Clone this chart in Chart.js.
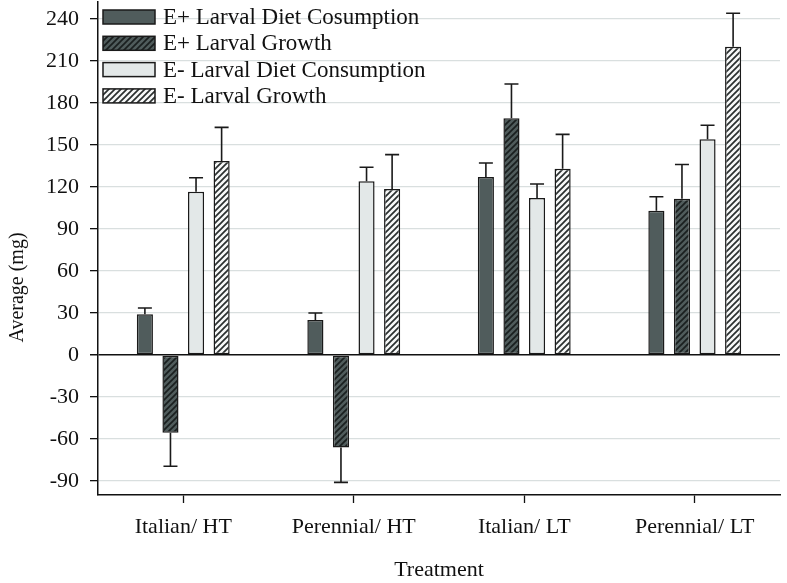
<!DOCTYPE html>
<html>
<head>
<meta charset="utf-8">
<script src="https://cdn.jsdelivr.net/npm/chart.js@4"></script>
<style>
  html, body { margin: 0; padding: 0; background: #fff; }
  #wrap { width: 787px; height: 583px; }
</style>
</head>
<body>
<div id="wrap"><canvas id="chart" width="787" height="583"></canvas></div>
<script>
const categories = ['Italian/ HT', 'Perennial/ HT', 'Italian/ LT', 'Perennial/ LT'];

const seriesLabels = [
    'E+ Larval Diet Cosumption',
    'E+ Larval Growth',
    'E- Larval Diet Consumption',
    'E- Larval Growth'
];

// means (mg)
const ePlusDiet    = [29, 25, 127, 103];
const ePlusGrowth  = [-55.5, -66, 169, 111.5];
const eMinusDiet   = [116.5, 124, 112, 154];
const eMinusGrowth = [138.5, 118.5, 133, 220];

// standard errors (mg)
const ePlusDietErr    = [4.5, 5, 10, 10];
const ePlusGrowthErr  = [24, 25, 24.5, 24.5];
const eMinusDietErr   = [10, 10, 10, 10];
const eMinusGrowthErr = [24, 24.5, 24.5, 24];

const yTicks = [-90, -60, -30, 0, 30, 60, 90, 120, 150, 180, 210, 240];
const yTitle = 'Average (mg)';

const DARK = '#505c5c';
const LIGHT = '#e3e8e8';
const SERIF = '"Liberation Serif", "Times New Roman", serif';

function hatch(bg, fg) {
    const s = 6;
    const c = document.createElement('canvas');
    c.width = s; c.height = s;
    const g = c.getContext('2d');
    g.fillStyle = bg;
    g.fillRect(0, 0, s, s);
    g.strokeStyle = fg;
    g.lineWidth = 1.7;
    g.beginPath();
    g.moveTo(0, s); g.lineTo(s, 0);
    g.moveTo(-1, 1); g.lineTo(1, -1);
    g.moveTo(s - 1, s + 1); g.lineTo(s + 1, s - 1);
    g.stroke();
    return g.createPattern(c, 'repeat');
}

const fills = [DARK, hatch(DARK, '#1a1f1f'), LIGHT, hatch('#f7f8f8', '#2a2f2f')];
const values = [ePlusDiet, ePlusGrowth, eMinusDiet, eMinusGrowth];
const errors = [ePlusDietErr, ePlusGrowthErr, eMinusDietErr, eMinusGrowthErr];

const datasets = values.map((v, i) => ({
    label: seriesLabels[i],
    data: v,
    errors: errors[i],
    backgroundColor: fills[i],
    borderColor: '#1a1a1a',
    borderWidth: 1.5,
    borderSkipped: false,
    categoryPercentage: 0.6,
    barPercentage: 0.63
}));

const errorBars = {
    id: 'errorBars',
    afterDatasetsDraw(chart) {
        const ctx = chart.ctx;
        const y = chart.scales.y;
        ctx.save();
        ctx.strokeStyle = '#1a1a1a';
        ctx.lineWidth = 1.6;
        chart.data.datasets.forEach((ds, i) => {
            chart.getDatasetMeta(i).data.forEach((bar, j) => {
                const v = ds.data[j];
                const end = y.getPixelForValue(v + Math.sign(v) * ds.errors[j]);
                ctx.beginPath();
                ctx.moveTo(bar.x, bar.y);
                ctx.lineTo(bar.x, end);
                ctx.moveTo(bar.x - 7, end);
                ctx.lineTo(bar.x + 7, end);
                ctx.stroke();
            });
        });
        ctx.restore();
    }
};

// legend boxes inside the plot + y title centred on the whole figure height
const boxLegend = {
    id: 'boxLegend',
    afterDraw(chart) {
        const ctx = chart.ctx;
        const a = chart.chartArea;
        ctx.save();
        ctx.font = '23px ' + SERIF;
        ctx.textBaseline = 'middle';
        chart.data.datasets.forEach((ds, i) => {
            const top = 10 + i * 26.3;
            ctx.fillStyle = ds.backgroundColor;
            ctx.fillRect(a.left + 5, top, 52, 14);
            ctx.strokeStyle = '#1a1a1a';
            ctx.lineWidth = 1.5;
            ctx.strokeRect(a.left + 5, top, 52, 14);
            ctx.fillStyle = '#111';
            ctx.fillText(ds.label, a.left + 65, top + 8);
        });

        ctx.translate(18, chart.height / 2 - 4);
        ctx.rotate(-Math.PI / 2);
        ctx.textAlign = 'center';
        ctx.font = '20px ' + SERIF;
        ctx.fillText(yTitle, 0, 0);
        ctx.restore();
    }
};

const font = { family: SERIF, size: 22 };

new Chart(document.getElementById('chart'), {
    type: 'bar',
    data: { labels: categories, datasets: datasets },
    options: {
        responsive: false,
        animation: false,
        layout: { padding: { top: 2, right: 7, left: 0, bottom: 0 } },
        plugins: {
            legend: { display: false },
            tooltip: { enabled: false }
        },
        scales: {
            x: {
                grid: {
                    offset: false,
                    drawOnChartArea: false,
                    drawTicks: true,
                    tickLength: 8,
                    tickColor: '#111',
                    tickWidth: 1.3
                },
                border: { color: '#111', width: 1.5 },
                ticks: { color: '#111', font: font, padding: 11 },
                title: {
                    display: true,
                    text: 'Treatment',
                    color: '#111',
                    font: font,
                    padding: { top: 10, bottom: 0 }
                },
                afterFit(s) {
                    s.height = 88;
                    s.paddingLeft = 0; s.paddingRight = 0;
                }
            },
            y: {
                min: -100,
                max: 252,
                afterBuildTicks(s) { s.ticks = yTicks.map(v => ({ value: v })); },
                grid: {
                    color: c => c.tick && c.tick.value === 0 ? '#111' : '#d9dfdf',
                    lineWidth: c => c.tick && c.tick.value === 0 ? 1.5 : 1.3,
                    tickColor: '#111',
                    tickLength: 8
                },
                border: { color: '#111', width: 1.5 },
                ticks: { color: '#111', font: font, padding: 11 },
                afterFit(s) {
                    s.width = 98;
                    s.paddingTop = 0; s.paddingBottom = 0;
                }
            }
        }
    },
    plugins: [errorBars, boxLegend]
});
</script>
</body>
</html>
